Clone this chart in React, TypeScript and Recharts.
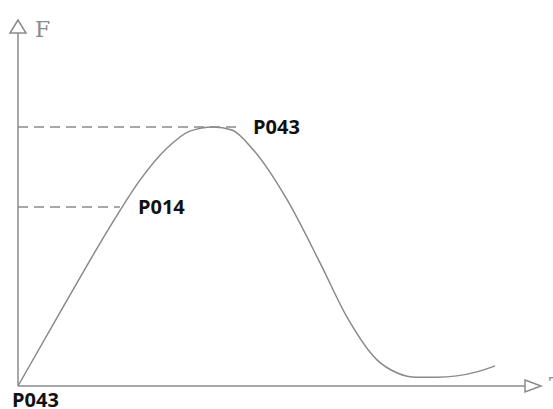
import { LineChart, Line, XAxis, YAxis, ReferenceLine, ReferenceDot } from "recharts"

// curve (time in %, force in %)
const timeValues = [0, 9.7, 18.1, 24.1, 29.4, 33.9, 38.5, 42.2, 46.4, 53.1, 59.6, 64.9, 70.8, 74.8, 78.7, 82.6, 90.5, 94.1]
const forceValues = [0, 24.4, 45, 58.4, 67.4, 72.2, 73.4, 72.5, 66.9, 52.7, 34.8, 19.5, 7.4, 3.7, 2.5, 2.5, 4, 5.7]

const peakForce = 73.4
const peakEndTime = 43.8
const midForce = 50.7
const midEndTime = 20.1

const peakLabel = "P043"
const midLabel = "P014"
const originLabel = "P043"
const yAxisName = "F"
const xAxisName = "T"

const chartData = timeValues.map((t, i) => ({ t, f: forceValues[i] }))

const GREY = "#8a8a8a"

const labelStyle = {
  fontFamily: "Open Sans",
  fontWeight: 700,
  fontSize: 20,
  fill: "#111",
}

function XArrow(props: any) {
  const { x, y, width } = props.viewBox
  const end = x + width
  return (
    <g>
      <path
        d={`M${end},${y - 6} L${end + 16},${y} L${end},${y + 6} Z`}
        fill="#fff"
        stroke={GREY}
        strokeWidth={1.5}
      />
      <text x={end + 24} y={y + 7} fontFamily="DejaVu Serif" fontSize={22} fill={GREY}>
        {xAxisName}
      </text>
    </g>
  )
}

function YArrow(props: any) {
  const { x, y, width } = props.viewBox
  const cx = x + width
  return (
    <g>
      <path
        d={`M${cx - 8},${y} L${cx},${y - 13} L${cx + 8},${y} Z`}
        fill="#fff"
        stroke={GREY}
        strokeWidth={1.5}
      />
      <text x={cx + 17} y={y + 4} fontFamily="DejaVu Serif" fontSize={22} fill={GREY}>
        {yAxisName}
      </text>
    </g>
  )
}

function OriginLabel(props: any) {
  const { x, y } = props.viewBox
  return (
    <text x={x - 6} y={y + 21} style={labelStyle}>
      {originLabel}
    </text>
  )
}

export default function App() {
  return (
    <div style={{ position: "absolute", left: 0, top: 0, width: 553, height: 409, background: "#fff", overflow: "hidden" }}>
      <LineChart
        width={553}
        height={409}
        data={chartData}
        margin={{ top: 33, right: 28, left: 17, bottom: 22 }}
      >
        <XAxis
          dataKey="t"
          type="number"
          domain={[0, 100]}
          height={1}
          tick={false}
          tickLine={false}
          axisLine={{ stroke: GREY, strokeWidth: 1.5 }}
          label={{ content: XArrow }}
        />
        <YAxis
          type="number"
          domain={[0, 100]}
          width={1}
          tick={false}
          tickLine={false}
          axisLine={{ stroke: GREY, strokeWidth: 1.5 }}
          label={{ content: YArrow }}
        />

        {/* dashed guides to the peak and the intermediate point */}
        <ReferenceLine
          segment={[{ x: 0, y: peakForce }, { x: peakEndTime, y: peakForce }]}
          stroke={GREY}
          strokeDasharray="10 6"
          strokeWidth={1.5}
          label={{ value: peakLabel, position: "right", offset: 13, style: labelStyle }}
        />
        <ReferenceLine
          segment={[{ x: 0, y: midForce }, { x: midEndTime, y: midForce }]}
          stroke={GREY}
          strokeDasharray="10 6"
          strokeWidth={1.5}
          label={{ value: midLabel, position: "right", offset: 18, style: labelStyle }}
        />
        <ReferenceDot x={0} y={0} r={0} stroke="none" label={{ content: OriginLabel }} />

        <Line
          type="monotone"
          dataKey="f"
          stroke={GREY}
          strokeWidth={1.5}
          dot={false}
          isAnimationActive={false}
        />
      </LineChart>
    </div>
  )
}
